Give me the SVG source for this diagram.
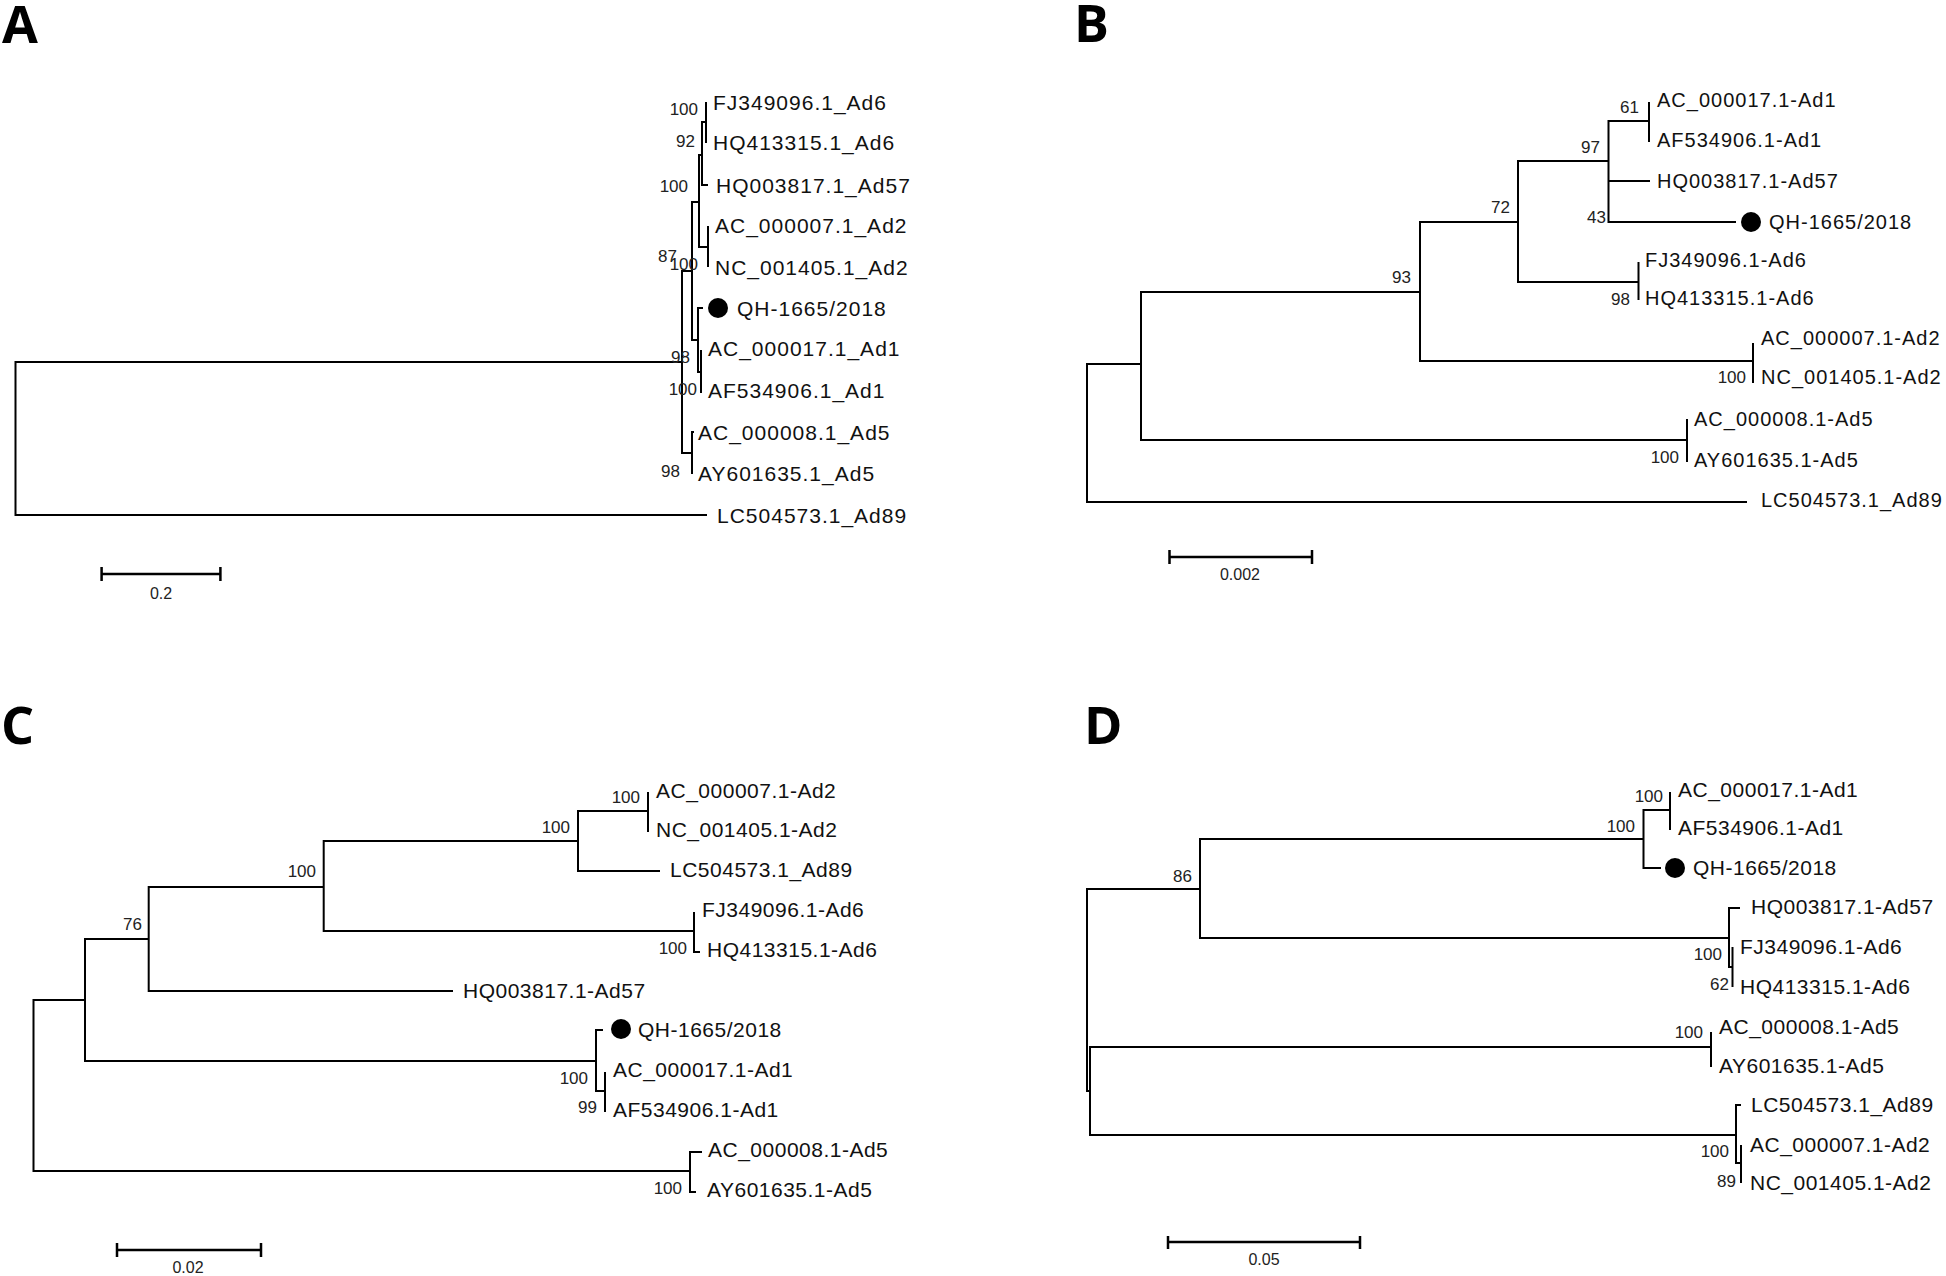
<svg xmlns="http://www.w3.org/2000/svg" width="1946" height="1276" viewBox="0 0 1946 1276">
<style>
.bg{fill:#fff}
.ln{fill:none;stroke:#000;stroke-width:2;stroke-linejoin:miter;stroke-linecap:butt}
.sb{fill:none;stroke:#000;stroke-width:2.5}
.tip{font-family:"Liberation Sans",Arial,sans-serif;font-size:21px;fill:#111;letter-spacing:1px}
.tipb{font-family:"Liberation Sans",Arial,sans-serif;font-size:20px;fill:#111;letter-spacing:1px}
.tipc{font-family:"Liberation Sans",Arial,sans-serif;font-size:21px;fill:#111;letter-spacing:0.5px}
.bs{font-family:"Liberation Sans",Arial,sans-serif;font-size:17px;fill:#222;text-anchor:end}
.sc{font-family:"Liberation Sans",Arial,sans-serif;font-size:16px;fill:#222;text-anchor:middle}
.pl{font-family:"Open Sans","Liberation Sans",Arial,sans-serif;font-size:52px;font-weight:700;fill:#000}
.dot{fill:#000}
</style>
<rect class="bg" x="0" y="0" width="1946" height="1276"/>

<!-- Panel letters -->
<g id="panel-labels">
<text class="pl" x="2" y="43">A</text>
<text class="pl" x="1074" y="42">B</text>
<text class="pl" x="1" y="744">C</text>
<text class="pl" x="1084" y="744">D</text>
</g>

<!-- Connectors -->
<g id="connectors">
<g id="edges-A">
<path class="ln" d="M682 362 H15.5 V515 H707"/>
<path class="ln" d="M692 271 H682 V453 H692"/>
<path class="ln" d="M694 432 H692 V474"/>
<path class="ln" d="M699 202 H692 V340 H698"/>
<path class="ln" d="M702 155 H699 V247 H708"/>
<path class="ln" d="M706 122 H702 V185 H708"/>
<path class="ln" d="M706 102 V143"/>
<path class="ln" d="M708 226 V267"/>
<path class="ln" d="M703 308 H698 V372 H701"/>
<path class="ln" d="M701 350 V393"/>
</g>
<g id="edges-B">
<path class="ln" d="M1141 364 H1087 V502 H1747"/>
<path class="ln" d="M1420 292 H1141 V440 H1687"/>
<path class="ln" d="M1687 419 V462"/>
<path class="ln" d="M1518 222 H1420 V361 H1753"/>
<path class="ln" d="M1753 343 V383"/>
<path class="ln" d="M1608.5 161 H1518 V282 H1638.5"/>
<path class="ln" d="M1638.5 262 V300"/>
<path class="ln" d="M1649 121 H1608.5 V222 H1736"/>
<path class="ln" d="M1608.5 181 H1650"/>
<path class="ln" d="M1649 102 V142"/>
</g>
<g id="edges-C">
<path class="ln" d="M85 1000 H33.5 V1171 H690"/>
<path class="ln" d="M702 1152 H690 V1192 H696"/>
<path class="ln" d="M148.7 939 H85 V1061 H596"/>
<path class="ln" d="M323.7 887 H148.7 V991 H453"/>
<path class="ln" d="M578 841 H323.7 V931 H694"/>
<path class="ln" d="M648 811 H578 V871 H660"/>
<path class="ln" d="M648 792 V832"/>
<path class="ln" d="M694 912 V952 H700"/>
<path class="ln" d="M603 1030 H596 V1091 H605"/>
<path class="ln" d="M605 1072 V1112"/>
</g>
<g id="edges-D">
<path class="ln" d="M1200 889 H1087 V1091 H1090"/>
<path class="ln" d="M1711 1047 H1090 V1135 H1736"/>
<path class="ln" d="M1711 1032 V1067"/>
<path class="ln" d="M1741 1105 H1736 V1163 H1741"/>
<path class="ln" d="M1741 1145 V1183"/>
<path class="ln" d="M1643.5 839 H1200 V938 H1729"/>
<path class="ln" d="M1670 810 H1643.5 V868 H1661"/>
<path class="ln" d="M1670 792 V830"/>
<path class="ln" d="M1740 908 H1729 V967 H1732.5"/>
<path class="ln" d="M1732.5 947 V987"/>
</g>
</g>

<!-- Panel A nodes -->
<g id="A-FJ349096"><text class="tip" x="713" y="110">FJ349096.1_Ad6</text></g>
<g id="A-HQ413315"><text class="tip" x="713" y="150">HQ413315.1_Ad6</text></g>
<g id="A-HQ003817"><text class="tip" x="716" y="193">HQ003817.1_Ad57</text></g>
<g id="A-AC000007"><text class="tip" x="715" y="233">AC_000007.1_Ad2</text></g>
<g id="A-NC001405"><text class="tip" x="715" y="275">NC_001405.1_Ad2</text></g>
<g id="A-QH1665"><circle class="dot" cx="718" cy="308" r="10"/><text class="tip" x="737" y="316">QH-1665/2018</text></g>
<g id="A-AC000017"><text class="tip" x="708" y="356">AC_000017.1_Ad1</text></g>
<g id="A-AF534906"><text class="tip" x="708" y="398">AF534906.1_Ad1</text></g>
<g id="A-AC000008"><text class="tip" x="698" y="440">AC_000008.1_Ad5</text></g>
<g id="A-AY601635"><text class="tip" x="698" y="481">AY601635.1_Ad5</text></g>
<g id="A-LC504573"><text class="tip" x="717" y="523">LC504573.1_Ad89</text></g>
<g id="A-bootstrap">
<text class="bs" x="698" y="115">100</text>
<text class="bs" x="695" y="147">92</text>
<text class="bs" x="688" y="192">100</text>
<text class="bs" x="677" y="262">87</text>
<text class="bs" x="698" y="270">100</text>
<text class="bs" x="690" y="363">98</text>
<text class="bs" x="697" y="395">100</text>
<text class="bs" x="680" y="477">98</text>
</g>
<g id="A-scale"><path class="sb" d="M101.6 574 H220.4 M101.6 567 V581 M220.4 567 V581"/><text class="sc" x="161" y="599">0.2</text></g>

<!-- Panel B nodes -->
<g id="B-AC000017"><text class="tipb" x="1657" y="107">AC_000017.1-Ad1</text></g>
<g id="B-AF534906"><text class="tipb" x="1657" y="147">AF534906.1-Ad1</text></g>
<g id="B-HQ003817"><text class="tipb" x="1657" y="188">HQ003817.1-Ad57</text></g>
<g id="B-QH1665"><circle class="dot" cx="1751" cy="222" r="10"/><text class="tipb" x="1769" y="229">QH-1665/2018</text></g>
<g id="B-FJ349096"><text class="tipb" x="1645" y="267">FJ349096.1-Ad6</text></g>
<g id="B-HQ413315"><text class="tipb" x="1645" y="305">HQ413315.1-Ad6</text></g>
<g id="B-AC000007"><text class="tipb" x="1761" y="345">AC_000007.1-Ad2</text></g>
<g id="B-NC001405"><text class="tipb" x="1761" y="384">NC_001405.1-Ad2</text></g>
<g id="B-AC000008"><text class="tipb" x="1694" y="426">AC_000008.1-Ad5</text></g>
<g id="B-AY601635"><text class="tipb" x="1694" y="467">AY601635.1-Ad5</text></g>
<g id="B-LC504573"><text class="tipb" x="1761" y="507">LC504573.1_Ad89</text></g>
<g id="B-bootstrap">
<text class="bs" x="1639" y="113">61</text>
<text class="bs" x="1600" y="153">97</text>
<text class="bs" x="1510" y="213">72</text>
<text class="bs" x="1606" y="223">43</text>
<text class="bs" x="1630" y="305">98</text>
<text class="bs" x="1411" y="283">93</text>
<text class="bs" x="1746" y="383">100</text>
<text class="bs" x="1679" y="463">100</text>
</g>
<g id="B-scale"><path class="sb" d="M1169.5 557 H1312 M1169.5 550 V564 M1312 550 V564"/><text class="sc" x="1240" y="580">0.002</text></g>

<!-- Panel C nodes -->
<g id="C-AC000007"><text class="tipc" x="656" y="798">AC_000007.1-Ad2</text></g>
<g id="C-NC001405"><text class="tipc" x="656" y="837">NC_001405.1-Ad2</text></g>
<g id="C-LC504573"><text class="tipc" x="670" y="877">LC504573.1_Ad89</text></g>
<g id="C-FJ349096"><text class="tipc" x="702" y="917">FJ349096.1-Ad6</text></g>
<g id="C-HQ413315"><text class="tipc" x="707" y="957">HQ413315.1-Ad6</text></g>
<g id="C-HQ003817"><text class="tipc" x="463" y="998">HQ003817.1-Ad57</text></g>
<g id="C-QH1665"><circle class="dot" cx="621" cy="1029" r="10"/><text class="tipc" x="638" y="1037">QH-1665/2018</text></g>
<g id="C-AC000017"><text class="tipc" x="613" y="1077">AC_000017.1-Ad1</text></g>
<g id="C-AF534906"><text class="tipc" x="613" y="1117">AF534906.1-Ad1</text></g>
<g id="C-AC000008"><text class="tipc" x="708" y="1157">AC_000008.1-Ad5</text></g>
<g id="C-AY601635"><text class="tipc" x="707" y="1197">AY601635.1-Ad5</text></g>
<g id="C-bootstrap">
<text class="bs" x="640" y="803">100</text>
<text class="bs" x="570" y="833">100</text>
<text class="bs" x="316" y="877">100</text>
<text class="bs" x="142" y="930">76</text>
<text class="bs" x="687" y="954">100</text>
<text class="bs" x="588" y="1084">100</text>
<text class="bs" x="597" y="1113">99</text>
<text class="bs" x="682" y="1194">100</text>
</g>
<g id="C-scale"><path class="sb" d="M117 1250 H261 M117 1243 V1257 M261 1243 V1257"/><text class="sc" x="188" y="1273">0.02</text></g>

<!-- Panel D nodes -->
<g id="D-AC000017"><text class="tipc" x="1678" y="797">AC_000017.1-Ad1</text></g>
<g id="D-AF534906"><text class="tipc" x="1678" y="835">AF534906.1-Ad1</text></g>
<g id="D-QH1665"><circle class="dot" cx="1675" cy="868" r="10"/><text class="tipc" x="1693" y="875">QH-1665/2018</text></g>
<g id="D-HQ003817"><text class="tipc" x="1751" y="914">HQ003817.1-Ad57</text></g>
<g id="D-FJ349096"><text class="tipc" x="1740" y="954">FJ349096.1-Ad6</text></g>
<g id="D-HQ413315"><text class="tipc" x="1740" y="994">HQ413315.1-Ad6</text></g>
<g id="D-AC000008"><text class="tipc" x="1719" y="1034">AC_000008.1-Ad5</text></g>
<g id="D-AY601635"><text class="tipc" x="1719" y="1073">AY601635.1-Ad5</text></g>
<g id="D-LC504573"><text class="tipc" x="1751" y="1112">LC504573.1_Ad89</text></g>
<g id="D-AC000007"><text class="tipc" x="1750" y="1152">AC_000007.1-Ad2</text></g>
<g id="D-NC001405"><text class="tipc" x="1750" y="1190">NC_001405.1-Ad2</text></g>
<g id="D-bootstrap">
<text class="bs" x="1663" y="802">100</text>
<text class="bs" x="1635" y="832">100</text>
<text class="bs" x="1192" y="882">86</text>
<text class="bs" x="1722" y="960">100</text>
<text class="bs" x="1729" y="990">62</text>
<text class="bs" x="1703" y="1038">100</text>
<text class="bs" x="1729" y="1157">100</text>
<text class="bs" x="1736" y="1187">89</text>
</g>
<g id="D-scale"><path class="sb" d="M1168 1242 H1360 M1168 1236 V1249 M1360 1236 V1249"/><text class="sc" x="1264" y="1265">0.05</text></g>
</svg>
